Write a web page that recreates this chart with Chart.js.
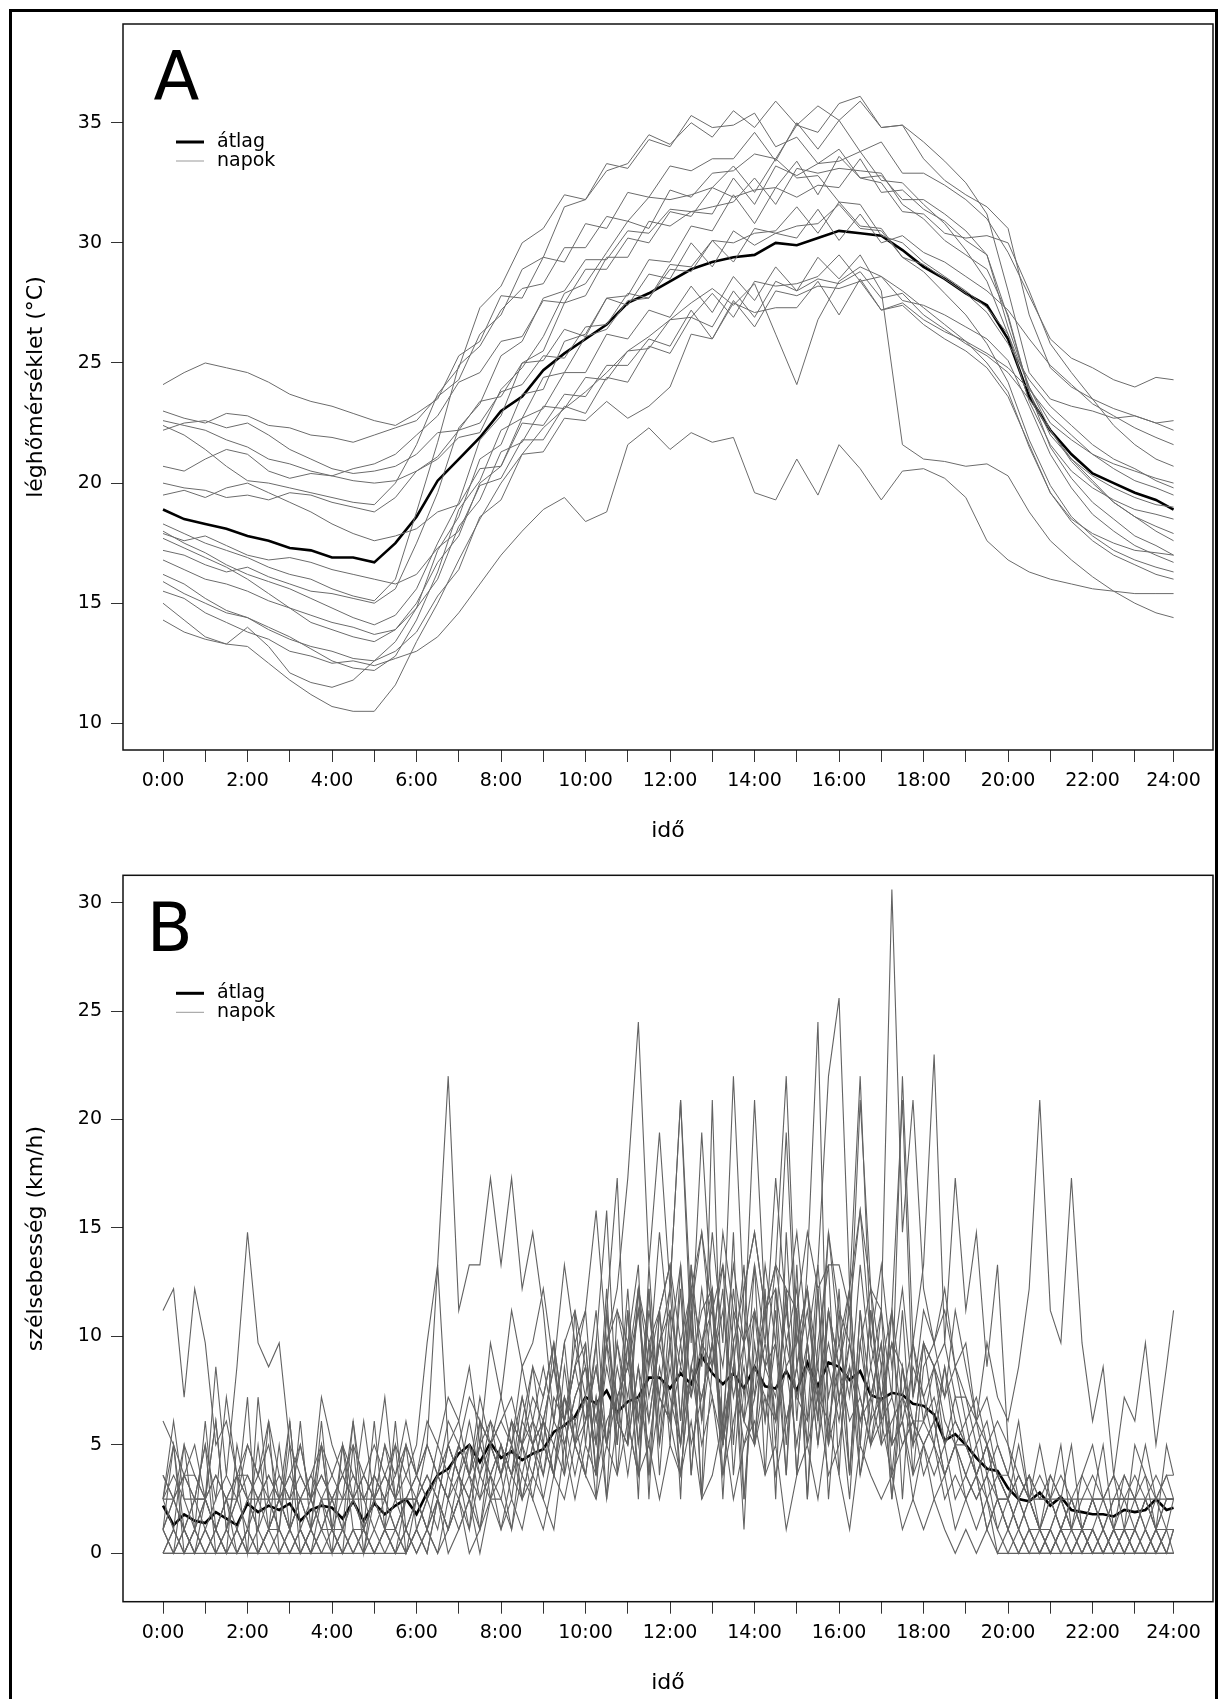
<!DOCTYPE html>
<html>
<head>
<meta charset="utf-8">
<script src="https://cdn.jsdelivr.net/npm/chart.js@4.4.0/dist/chart.umd.min.js"></script>
<style>
  body { margin: 0; background: #fff; width: 1218px; height: 1699px; position: relative; overflow: hidden; }
  #frame { position: absolute; left: 9px; top: 9px; width: 1209px; height: 1760px; border: 3px solid #000; box-sizing: border-box; }
  .panel { position: absolute; left: 0; width: 1218px; }
  #panelA { top: 0; height: 870px; }
  #panelB { top: 850px; height: 849px; }
</style>
</head>
<body>
<div id="frame"></div>
<div class="panel" id="panelA"><canvas id="temp"></canvas></div>
<div class="panel" id="panelB"><canvas id="wind"></canvas></div>
<script>
// time of day in minutes; the last sample is 23:55, which the axis calls 24:00
var hourTicks = [0,60,120,180,240,300,360,420,480,540,600,660,720,780,840,900,960,1020,1080,1140,1200,1260,1320,1380,1435];

var tempTimes = [0,30,60,90,120,150,180,210,240,270,300,330,360,390,420,450,480,510,540,570,600,630,660,690,
  720,750,780,810,840,870,900,930,960,990,1020,1050,1080,1110,1140,1170,1200,1230,1260,1290,1320,1350,1380,1410,1435];

var windTimes = [0,15,30,45,60,75,90,105,120,135,150,165,180,195,210,225,240,255,270,285,300,315,330,345,
  360,375,390,405,420,435,450,465,480,495,510,525,540,555,570,585,600,615,630,645,660,675,690,705,
  720,735,750,765,780,795,810,825,840,855,870,885,900,915,930,945,960,975,990,1005,1020,1035,1050,1065,
  1080,1095,1110,1125,1140,1155,1170,1185,1200,1215,1230,1245,1260,1275,1290,1305,1320,1335,1350,1365,1380,1395,1410,1425,1435];

// air temperature (°C), one array per day, every 30 minutes
var tempDay01 = [24.1,24.6,25.0,24.8,24.6,24.2,23.7,23.4,23.2,22.9,22.6,22.4,
  22.9,23.5,25.3,25.9,27.8,27.7,29.4,29.2,30.8,30.6,32.1,31.9,
  33.2,33.0,33.5,33.5,34.6,33.4,35.0,33.9,35.1,33.8,34.2,32.9,
  32.9,32.4,31.8,31.0,29.6,27.8,26.0,25.2,24.8,24.3,24.0,24.4,24.3];
var tempDay02 = [23.0,22.7,22.5,22.9,22.8,22.4,22.3,22.0,21.9,21.7,22.0,22.3,
  22.6,23.6,24.3,26.2,27.0,28.9,29.4,31.5,31.8,33.0,33.3,34.5,
  34.1,35.0,34.4,35.5,34.8,35.9,34.9,35.7,35.1,35.9,34.8,34.9,
  34.2,33.4,32.5,31.2,28.0,24.6,23.5,23.2,23.0,22.7,22.8,22.5,22.6];
var tempDay03 = [22.6,22.4,22.2,21.8,21.5,21.0,20.8,20.5,20.3,20.1,20.0,20.1,
  20.5,21.0,21.9,22.1,23.9,24.8,26.1,27.9,28.3,29.6,30.9,30.6,
  32.2,31.9,32.9,33.0,33.7,33.5,34.9,34.6,35.8,36.1,34.8,34.9,
  33.5,32.6,32.0,31.5,30.6,27.0,24.8,24.0,23.5,23.1,22.8,22.5,22.2];
var tempDay04 = [22.4,22.0,21.4,20.7,20.1,20.0,19.8,19.6,19.4,19.2,19.1,20.0,
  21.6,23.7,24.8,27.3,28.2,30.0,30.6,32.0,31.8,33.3,33.1,34.3,
  34.0,35.3,34.8,34.9,35.4,34.0,34.4,33.3,33.9,32.7,32.8,31.8,
  31.8,31.2,30.5,29.5,26.5,24.0,22.5,21.8,21.2,20.8,20.5,20.2,20.0];
var tempDay05 = [22.2,22.5,22.6,22.3,22.5,22.0,21.4,21.0,20.6,20.4,20.5,20.7,
  21.2,22.1,22.2,23.4,23.6,25.0,25.1,26.4,26.1,27.7,27.4,28.7,
  28.5,30.0,29.0,30.5,29.9,30.4,30.2,31.4,30.1,31.2,30.0,30.3,
  29.6,29.2,28.6,28.0,27.2,26.0,24.9,24.1,23.3,22.8,22.3,21.9,21.6];
var tempDay06 = [20.7,20.5,21.0,21.4,21.2,20.5,20.2,20.4,20.3,20.6,20.8,21.2,
  22.0,22.8,24.2,24.6,25.9,26.1,27.6,27.5,28.9,28.9,30.2,30.0,
  31.3,31.1,32.3,31.9,32.2,32.3,33.4,32.0,33.6,32.7,32.5,31.3,
  31.2,30.4,30.2,30.3,30.0,28.0,25.8,24.6,23.5,22.4,21.6,21.0,20.7];
var tempDay07 = [20.0,19.8,19.7,19.4,19.5,19.3,19.6,19.5,19.2,19.0,18.8,19.4,
  20.5,21.1,22.2,22.5,23.8,24.1,25.3,25.2,26.5,26.6,27.9,27.7,
  29.1,29.0,30.1,29.2,30.6,30.4,30.7,30.8,31.6,30.6,30.5,29.4,
  29.1,28.5,27.9,27.1,25.8,24.3,23.2,22.4,21.6,21.0,20.6,20.1,19.8];
var tempDay08 = [19.5,19.7,19.4,19.8,20.0,19.6,19.2,18.8,18.3,17.9,17.6,17.8,
  18.1,18.8,19.1,20.6,20.7,22.5,22.4,23.7,23.6,24.9,24.9,26.0,
  25.7,27.2,26.0,27.5,27.1,27.3,27.3,28.4,27.0,28.5,27.2,27.5,
  26.8,26.3,25.9,25.4,24.8,23.9,22.8,22.0,21.2,20.6,20.1,19.8,19.5];
var tempDay09 = [18.3,17.9,17.5,17.2,16.9,16.5,16.2,16.0,15.6,15.3,15.1,16.0,
  18.8,21.7,24.9,25.7,27.2,28.1,28.3,29.8,29.8,31.1,30.9,31.9,
  31.8,32.0,32.3,33.2,32.1,33.5,32.7,32.8,31.7,31.6,30.3,30.0,
  29.2,28.6,28.0,27.3,26.2,24.0,22.2,20.9,20.0,19.2,18.6,18.2,17.9];
var tempDay10 = [17.9,17.6,17.8,17.4,17.0,16.8,16.9,16.7,16.4,16.2,16.0,15.8,
  16.2,17.3,18.0,19.9,20.2,21.8,21.8,23.2,22.9,24.4,24.2,25.7,
  25.4,26.9,26.5,28.0,26.9,28.4,28.0,28.5,28.3,28.8,27.7,27.9,
  27.0,26.4,25.8,25.3,24.6,23.5,22.2,21.0,20.1,19.2,18.6,18.0,17.6];
var tempDay11 = [17.7,17.3,16.9,16.5,16.0,15.4,14.8,14.2,13.9,13.6,13.4,13.9,
  15.0,16.7,17.8,20.0,20.7,22.7,23.1,24.6,24.6,26.2,26.0,27.2,
  26.9,28.2,27.1,28.6,27.6,29.0,28.0,29.4,28.5,29.5,28.0,21.6,
  21.0,20.9,20.7,20.8,20.3,18.8,17.6,16.8,16.1,15.5,15.0,14.6,14.4];
var tempDay12 = [17.2,17.0,16.6,16.3,16.5,16.1,15.8,15.5,15.4,15.2,15.0,15.6,
  17.5,19.6,22.3,23.3,25.3,25.9,27.7,28.0,29.3,29.3,30.5,30.4,
  31.4,31.3,31.5,31.7,32.7,31.6,33.1,32.9,33.1,33.0,32.9,31.6,
  31.0,30.1,29.5,28.9,27.0,23.8,21.5,20.2,19.2,18.5,17.8,17.4,17.0];
var tempDay13 = [16.8,16.4,16.0,15.8,15.5,15.1,14.8,14.5,14.2,14.0,13.7,13.9,
  14.8,16.0,18.2,19.3,21.3,21.7,23.2,23.1,24.4,24.3,25.5,25.6,
  26.8,26.9,27.9,26.9,28.4,28.2,28.3,28.6,29.5,28.4,28.6,27.6,
  27.4,27.0,26.5,26.0,25.1,23.2,21.2,19.8,18.7,18.0,17.4,17.0,16.7];
var tempDay14 = [16.2,15.8,15.2,14.7,14.4,14.0,13.6,13.1,12.6,12.3,12.2,12.8,
  14.3,16.3,18.9,20.1,22.2,22.7,24.4,24.6,26.1,26.4,27.6,27.7,
  28.9,28.8,30.1,30.0,30.4,30.5,31.5,30.4,31.7,30.7,30.6,29.4,
  28.8,27.9,27.0,25.8,24.2,21.8,19.9,18.6,17.8,17.2,16.8,16.5,16.3];
var tempDay15 = [15.9,15.4,15.0,14.6,14.4,13.9,13.5,13.2,13.0,12.7,12.6,13.0,
  13.8,15.3,16.4,18.6,19.3,21.2,21.3,22.7,22.6,23.4,22.7,23.2,
  24.0,26.2,26.0,27.6,26.5,28.0,27.8,28.2,28.1,28.4,27.2,27.4,
  26.6,26.0,25.5,24.8,23.6,21.6,19.6,18.4,17.6,17.0,16.6,16.2,16.0];
var tempDay16 = [15.5,15.2,14.6,14.2,13.8,13.5,13.0,12.8,12.5,12.6,12.4,12.7,
  13.0,13.6,14.6,15.8,17.0,18.0,18.9,19.4,18.4,18.8,21.6,22.3,
  21.4,22.1,21.7,21.9,19.6,19.3,21.0,19.5,21.6,20.6,19.3,20.5,
  20.6,20.2,19.4,17.6,16.8,16.3,16.0,15.8,15.6,15.5,15.4,15.4,15.4];
var tempDay17 = [15.0,14.3,13.6,13.3,13.2,12.5,11.8,11.2,10.7,10.5,10.5,11.6,
  13.4,15.0,16.8,18.5,20.0,21.2,22.3,23.1,23.8,24.6,25.5,26.1,
  26.8,27.5,28.1,27.4,28.3,26.2,24.1,26.8,28.4,29.0,28.6,28.0,
  27.3,26.6,25.9,25.0,23.8,21.5,19.6,18.5,17.9,17.5,17.2,17.1,17.0];
var tempDay18 = [14.3,13.8,13.5,13.3,14.0,13.2,12.1,11.7,11.5,11.8,12.6,13.4,
  14.8,17.2,18.6,21.0,21.6,23.7,23.9,25.9,26.2,27.7,27.8,29.3,
  29.2,30.7,30.5,32.0,30.8,32.3,31.9,32.4,32.3,33.5,32.1,32.2,
  31.4,30.9,30.1,29.5,26.9,23.8,22.0,21.0,20.3,19.8,19.4,19.1,19.0];
var tempDay19 = [18.0,17.5,17.1,16.6,16.2,15.9,15.6,15.2,14.8,14.4,14.1,14.5,
  15.6,17.5,19.2,21.8,22.8,25.0,25.5,27.5,27.8,29.4,29.4,30.9,
  30.7,31.3,31.2,32.7,31.6,33.2,32.8,33.3,33.4,33.8,32.6,32.5,
  31.6,30.8,29.7,28.4,26.2,23.4,21.6,20.5,19.8,19.3,18.9,18.7,18.5];

var tempMean = [18.9,18.5,18.3,18.1,17.8,17.6,17.3,17.2,16.9,16.9,16.7,17.5,
  18.6,20.1,21.0,21.9,23.0,23.6,24.7,25.4,26.0,26.6,27.5,27.9,
  28.4,28.9,29.2,29.4,29.5,30.0,29.9,30.2,30.5,30.4,30.3,29.7,
  29.0,28.5,27.9,27.4,26.0,23.6,22.2,21.2,20.4,20.0,19.6,19.3,18.9];

// wind speed (km/h), one array per day, every 15 minutes
var windDay01 = [11.2,12.2,7.2,12.2, 9.7,5,6.1,3.6, 5,3.6,5,2.5, 3.6,5,2.5,3.6, 2.5,3.6,5,3.6, 2.5,3.6,2.5,5,
  3.6,6.1,5,7.2, 6.1,8.6,5,9.7, 7.2,11.2,8.6,9.7, 12.2,8.6,13.3,9.7, 11.2,15.8,9.7,12.2, 17.3,24.5,13.3,19.4,
  12.2,20.9,11.2,14.8, 9.7,13.3,5,12.2, 14.8,11.2,13.3,9.7, 12.2,6.1,13.3,7.2, 9.7,12.2,5,11.2, 7.2,9.7,6.1,8.6,
  7.2,5,8.6,6.1, 5,6.1,3.6,5, 3.6,2.5,3.6,2.5, 2.5,1.1,2.5,3.6, 2.5,2.5,1.1,2.5, 3.6,2.5,2.5,3.6, 2.5];
var windDay02 = [6.1,5,3.6,5, 2.5,8.6,3.6,8.6, 14.8,9.7,8.6,9.7, 5,3.6,2.5,3.6, 2.5,1.1,2.5,2.5, 1.1,2.5,1.1,2.5,
  2.5,3.6,2.5,5, 3.6,5,2.5,3.6, 5,3.6,6.1,5, 3.6,6.1,5,7.2, 8.6,6.1,9.7,7.2, 8.6,11.2,7.2,9.7,
  11.2,8.6,12.2,9.7, 8.6,11.2,7.2,9.7, 11.2,8.6,9.7,6.1, 8.6,11.2,7.2,9.7, 7.2,9.7,6.1,8.6, 6.1,7.2,5,6.1,
  5,6.1,3.6,5, 3.6,2.5,3.6,2.5, 1.1,2.5,1.1,0, 1.1,0,1.1,1.1, 0,1.1,0,1.1, 0,1.1,0,0, 1.1];
var windDay03 = [2.5,3.6,2.5,1.1, 2.5,1.1,2.5,3.6, 2.5,1.1,2.5,2.5, 1.1,2.5,3.6,2.5, 2.5,3.6,2.5,3.6, 5,3.6,5,3.6,
  5,9.7,13.3,22, 11.2,13.3,13.3,17.3, 13.3,17.3,12.2,14.8, 11.2,6.1,9.7,5, 9.7,3.6,11.2,6.1, 12.2,5,8.6,11.2,
  6.1,12.2,3.6,9.7, 11.2,5,9.7,2.5, 8.6,11.2,5,12.2, 3.6,9.7,6.1,11.2, 8.6,3.6,11.2,5, 8.6,2.5,7.2,6.1,
  6.1,7.2,5,6.1, 5,3.6,5,2.5, 2.5,3.6,2.5,1.1, 2.5,1.1,2.5,1.1, 2.5,1.1,2.5,2.5, 1.1,2.5,1.1,2.5, 2.5];
var windDay04 = [0,1.1,0,1.1, 0,0,1.1,0, 1.1,0,1.1,2.5, 1.1,0,1.1,0, 0,1.1,0,1.1, 0,0,1.1,0,
  1.1,2.5,1.1,3.6, 2.5,5,3.6,6.1, 5,3.6,7.2,5, 6.1,8.6,5,7.2, 8.6,6.1,9.7,11.2, 8.6,12.2,9.7,11.2,
  13.3,9.7,12.2,14.8, 11.2,13.3,9.7,12.2, 14.8,11.2,13.3,12.2, 11.2,14.8,12.2,13.3, 13.3,11.2,15.8,12.2, 11.2,30.6,14.8,20.9,
  12.2,9.7,11.2,8.6, 7.2,6.1,5,3.6, 2.5,1.1,2.5,1.1, 0,1.1,0,1.1, 0,0,1.1,0, 1.1,0,0,1.1, 0];
var windDay05 = [1.1,2.5,1.1,2.5, 2.5,3.6,2.5,1.1, 2.5,2.5,3.6,2.5, 1.1,2.5,2.5,1.1, 2.5,1.1,2.5,3.6, 2.5,2.5,1.1,2.5,
  3.6,2.5,5,3.6, 5,3.6,6.1,5, 6.1,7.2,5,8.6, 7.2,9.7,6.1,8.6, 9.7,3.6,11.2,5, 11.2,2.5,13.3,6.1,
  9.7,3.6,8.6,11.2, 12.2,5,14.8,2.5, 9.7,6.1,11.2,3.6, 11.2,5,12.2,2.5, 8.6,11.2,3.6,7.2, 9.7,5,11.2,3.6,
  8.6,9.7,7.2,11.2, 8.6,6.1,9.7,7.2, 6.1,8.6,12.2,20.9, 11.2,9.7,17.3,9.7, 6.1,8.6,3.6,7.2, 6.1,9.7,5,8.6, 11.2];
var windDay06 = [2.5,5,0,1.1, 6.1,1.1,2.5,0, 1.1,5,1.1,2.5, 6.1,1.1,0,2.5, 1.1,5,1.1,0, 2.5,1.1,6.1,1.1,
  2.5,1.1,3.6,2.5, 3.6,2.5,5,3.6, 2.5,5,3.6,6.1, 5,3.6,7.2,6.1, 7.2,5,8.6,6.1, 5,8.6,6.1,9.7,
  7.2,5,8.6,7.2, 9.7,6.1,8.6,5, 7.2,9.7,6.1,8.6, 5,8.6,7.2,6.1, 8.6,6.1,7.2,5, 6.1,3.6,5,6.1,
  3.6,5,2.5,3.6, 2.5,3.6,1.1,2.5, 1.1,2.5,1.1,0, 1.1,2.5,1.1,1.1, 2.5,1.1,0,1.1, 1.1,2.5,1.1,2.5, 2.5];
var windDay07 = [1.1,0,3.6,2.5, 5,0,1.1,3.6, 0,7.2,2.5,1.1, 5,0,1.1,6.1, 1.1,0,5,0, 3.6,2.5,5,0,
  1.1,0,2.5,1.1, 2.5,3.6,1.1,5, 3.6,6.1,2.5,5, 6.1,3.6,8.6,5, 7.2,11.2,5,9.7, 6.1,12.2,8.6,14.8,
  9.7,13.3,7.2,12.2, 8.6,14.8,11.2,9.7, 13.3,9.7,17.3,11.2, 14.8,9.7,13.3,22, 25.6,12.2,15.8,9.7, 13.3,8.6,12.2,7.2,
  9.7,6.1,8.6,5, 6.1,3.6,5,2.5, 2.5,1.1,0,1.1, 0,1.1,0,0, 1.1,0,0,1.1, 0,0,1.1,0, 0];
var windDay08 = [3.6,2.5,3.6,2.5, 1.1,2.5,3.6,2.5, 3.6,2.5,1.1,2.5, 2.5,3.6,2.5,1.1, 2.5,2.5,3.6,2.5, 2.5,1.1,2.5,3.6,
  2.5,3.6,2.5,1.1, 3.6,2.5,5,3.6, 5,3.6,5,6.1, 3.6,7.2,6.1,8.6, 6.1,9.7,2.5,11.2, 9.7,3.6,12.2,5,
  11.2,2.5,13.3,6.1, 12.2,3.6,8.6,13.3, 5,12.2,2.5,14.8, 6.1,13.3,24.5,5, 11.2,3.6,9.7,12.2, 5,11.2,2.5,9.7,
  7.2,8.6,6.1,5, 5,3.6,5,3.6, 2.5,3.6,2.5,2.5, 3.6,2.5,2.5,1.1, 2.5,2.5,3.6,2.5, 2.5,1.1,2.5,2.5, 2.5];
var windDay09 = [0,1.1,0,0, 1.1,0,0,1.1, 0,0,1.1,0, 0,1.1,0,1.1, 1.1,0,0,1.1, 0,1.1,0,1.1,
  0,1.1,2.5,1.1, 2.5,1.1,3.6,2.5, 3.6,1.1,5,2.5, 5,3.6,6.1,3.6, 6.1,8.6,5,9.7, 7.2,11.2,6.1,9.7,
  12.2,20.9,9.7,19.4, 11.2,8.6,13.3,9.7, 20.9,11.2,12.2,8.6, 9.7,12.2,7.2,11.2, 8.6,12.2,22,9.7, 7.2,9.7,8.6,6.1,
  5,6.1,3.6,5, 2.5,3.6,1.1,2.5, 1.1,0,1.1,0, 0,1.1,0,1.1, 0,0,1.1,0, 1.1,0,1.1,0, 1.1];
var windDay10 = [2.5,2.5,1.1,2.5, 2.5,1.1,2.5,2.5, 1.1,2.5,2.5,3.6, 2.5,2.5,1.1,2.5, 3.6,2.5,2.5,1.1, 2.5,3.6,2.5,2.5,
  3.6,5,3.6,6.1, 5,7.2,6.1,5, 7.2,5,8.6,6.1, 8.6,6.1,9.7,11.2, 8.6,3.6,9.7,5, 11.2,6.1,12.2,3.6,
  9.7,5,11.2,2.5, 8.6,12.2,3.6,9.7, 5,11.2,6.1,12.2, 3.6,9.7,5,11.2, 7.2,2.5,9.7,6.1, 11.2,3.6,8.6,5,
  9.7,8.6,9.7,7.2, 7.2,5,6.1,3.6, 3.6,2.5,3.6,2.5, 2.5,2.5,1.1,2.5, 2.5,1.1,2.5,2.5, 2.5,2.5,3.6,2.5, 2.5];
var windDay11 = [0,0,1.1,0, 0,1.1,0,0, 1.1,0,0,1.1, 0,0,1.1,0, 0,1.1,0,0, 1.1,0,0,1.1,
  0,1.1,0,2.5, 1.1,2.5,1.1,2.5, 2.5,1.1,3.6,2.5, 1.1,3.6,2.5,5, 3.6,2.5,5,3.6, 6.1,3.6,5,2.5,
  5,3.6,6.1,2.5, 3.6,6.1,2.5,5, 6.1,3.6,5,1.1, 3.6,5,2.5,6.1, 3.6,1.1,5,3.6, 2.5,3.6,1.1,2.5,
  1.1,2.5,1.1,0, 1.1,0,1.1,0, 0,0,0,0, 0,0,0,0, 0,0,0,0, 0,0,0,0, 0];
var windDay12 = [1.1,5,1.1,0, 2.5,6.1,1.1,2.5, 7.2,0,1.1,5, 1.1,6.1,1.1,2.5, 0,5,2.5,1.1, 6.1,1.1,0,2.5,
  2.5,1.1,2.5,5, 3.6,1.1,6.1,2.5, 5,2.5,6.1,8.6, 5,9.7,3.6,11.2, 5,9.7,15.8,6.1, 9.7,5,11.2,7.2,
  12.2,6.1,13.3,8.6, 14.8,9.7,22,11.2, 7.2,13.3,9.7,19.4, 8.6,12.2,6.1,14.8, 9.7,7.2,13.3,8.6, 11.2,7.2,22,9.7,
  13.3,23,9.7,17.3, 11.2,14.8,8.6,13.3, 5,2.5,3.6,1.1, 2.5,1.1,2.5,1.1, 1.1,2.5,1.1,0, 1.1,2.5,1.1,1.1, 2.5];
var windDay13 = [2.5,1.1,5,3.6, 2.5,6.1,1.1,2.5, 5,3.6,2.5,1.1, 6.1,1.1,2.5,5, 1.1,2.5,6.1,2.5, 3.6,7.2,2.5,5,
  1.1,2.5,3.6,2.5, 5,3.6,2.5,5, 3.6,5,2.5,3.6, 6.1,5,7.2,5, 6.1,8.6,5,7.2, 8.6,6.1,9.7,7.2,
  6.1,8.6,7.2,9.7, 7.2,5,8.6,6.1, 8.6,7.2,6.1,9.7, 7.2,6.1,8.6,5, 7.2,8.6,6.1,7.2, 5,6.1,7.2,5,
  6.1,5,3.6,5, 3.6,5,2.5,3.6, 2.5,5,2.5,1.1, 3.6,2.5,5,1.1, 2.5,5,1.1,3.6, 2.5,5,2.5,1.1, 1.1];
var windDay14 = [0,0,1.1,0, 1.1,0,0,0, 0,1.1,0,0, 1.1,0,0,1.1, 0,0,1.1,0, 0,1.1,0,0,
  1.1,0,2.5,0, 1.1,2.5,0,2.5, 1.1,3.6,2.5,5, 2.5,5,3.6,6.1, 3.6,7.2,5,8.6, 6.1,3.6,9.7,5,
  8.6,5,11.2,6.1, 9.7,6.1,12.2,7.2, 11.2,8.6,13.3,22, 9.7,12.2,8.6,14.8, 11.2,9.7,20.9,12.2, 8.6,11.2,7.2,9.7,
  6.1,8.6,5,7.2, 5,3.6,2.5,1.1, 0,1.1,0,0, 1.1,0,0,1.1, 0,1.1,0,0, 0,0,1.1,0, 0];
var windDay15 = [3.6,2.5,3.6,3.6, 2.5,3.6,2.5,3.6, 3.6,2.5,3.6,2.5, 3.6,2.5,3.6,5, 3.6,5,3.6,2.5, 3.6,2.5,3.6,5,
  3.6,5,3.6,2.5, 5,3.6,5,6.1, 3.6,6.1,5,7.2, 6.1,8.6,6.1,9.7, 7.2,2.5,11.2,17.3, 5,12.2,3.6,11.2,
  13.3,6.1,12.2,2.5, 20.9,5,9.7,1.1, 11.2,6.1,9.7,3.6, 13.3,2.5,12.2,5, 12.2,3.6,11.2,7.2, 9.7,2.5,8.6,5,
  9.7,8.6,7.2,8.6, 6.1,7.2,5,6.1, 5,3.6,2.5,3.6, 2.5,3.6,2.5,2.5, 3.6,2.5,2.5,3.6, 2.5,3.6,2.5,3.6, 3.6];
var windDay16 = [1.1,0,0,1.1, 0,1.1,0,1.1, 0,0,1.1,1.1, 0,1.1,0,0, 1.1,0,1.1,1.1, 0,1.1,1.1,0,
  2.5,1.1,0,1.1, 2.5,0,1.1,3.6, 1.1,2.5,1.1,3.6, 2.5,1.1,5,2.5, 5,3.6,6.1,7.2, 3.6,7.2,5,8.6,
  6.1,9.7,5,7.2, 9.7,5,8.6,6.1, 5,8.6,7.2,11.2, 7.2,9.7,5,8.6, 6.1,9.7,7.2,5, 7.2,5,6.1,3.6,
  5,2.5,3.6,1.1, 2.5,1.1,2.5,0, 1.1,0,1.1,1.1, 0,1.1,1.1,0, 1.1,0,1.1,1.1, 0,1.1,0,1.1, 1.1];
var windDay17 = [2.5,6.1,2.5,2.5, 5,2.5,7.2,3.6, 2.5,3.6,6.1,3.6, 2.5,5,2.5,7.2, 5,3.6,2.5,6.1, 2.5,5,3.6,6.1,
  3.6,2.5,3.6,5, 3.6,6.1,3.6,5, 6.1,5,7.2,5, 7.2,9.7,6.1,8.6, 11.2,5,12.2,3.6, 9.7,13.3,2.5,11.2,
  5,13.3,3.6,9.7, 12.2,2.5,11.2,6.1, 13.3,3.6,12.2,5, 11.2,2.5,9.7,13.3, 3.6,12.2,5,11.2, 6.1,11.2,20.9,7.2,
  11.2,9.7,12.2,8.6, 9.7,6.1,7.2,5, 3.6,6.1,2.5,5, 2.5,5,1.1,3.6, 5,2.5,3.6,1.1, 5,3.6,1.1,5, 3.6];
var windDay18 = [1.1,2.5,5,1.1, 2.5,1.1,0,5, 2.5,1.1,6.1,0, 1.1,2.5,1.1,5, 1.1,1.1,6.1,1.1, 2.5,5,2.5,1.1,
  2.5,5,13.3,5, 6.1,3.6,7.2,5, 3.6,6.1,5,3.6, 6.1,3.6,7.2,5, 3.6,7.2,2.5,6.1, 5,8.6,3.6,7.2,
  6.1,3.6,8.6,5, 7.2,3.6,6.1,8.6, 5,7.2,3.6,6.1, 8.6,5,7.2,3.6, 5,8.6,3.6,6.1, 7.2,5,6.1,2.5,
  5,3.6,5,2.5, 3.6,2.5,3.6,1.1, 2.5,1.1,2.5,1.1, 1.1,2.5,1.1,0, 1.1,0,1.1,1.1, 2.5,1.1,0,1.1, 1.1];

var windMean = [2.2,1.3,1.8,1.5, 1.4,1.9,1.6,1.3, 2.3,1.9,2.2,2.0, 2.3,1.5,2.0,2.2, 2.1,1.6,2.4,1.5, 2.3,1.8,2.2,2.5,
  1.8,2.8,3.6,3.9, 4.6,5.0,4.2,5.1, 4.4,4.7,4.3,4.6, 4.8,5.6,5.9,6.3, 7.2,6.9,7.5,6.5, 7.0,7.2,8.1,8.1,
  7.6,8.3,7.8,9.1, 8.3,7.8,8.3,7.6, 8.6,7.7,7.6,8.4, 7.5,8.8,7.7,8.8, 8.6,8.0,8.4,7.3, 7.1,7.4,7.3,6.9,
  6.8,6.4,5.2,5.5, 5.0,4.4,3.9,3.8, 3.0,2.5,2.4,2.8, 2.2,2.6,2.0,1.9, 1.8,1.8,1.7,2.0, 1.9,2.0,2.5,2.0, 2.1];

var tempDays = [tempDay01, tempDay02, tempDay03, tempDay04, tempDay05, tempDay06, tempDay07, tempDay08, tempDay09, tempDay10,
  tempDay11, tempDay12, tempDay13, tempDay14, tempDay15, tempDay16, tempDay17, tempDay18, tempDay19];
var windDays = [windDay01, windDay02, windDay03, windDay04, windDay05, windDay06, windDay07, windDay08, windDay09,
  windDay10, windDay11, windDay12, windDay13, windDay14, windDay15, windDay16, windDay17, windDay18];

var tempTicks = [10, 15, 20, 25, 30, 35];
var windTicks = [0, 5, 10, 15, 20, 25, 30];

Chart.defaults.font.family = '"DejaVu Sans", sans-serif';
Chart.defaults.color = '#000';

function toPoints(times, vals) {
  return vals.map(function (v, i) { return { x: times[i], y: v }; });
}

// box around the plot, panel letter and the small legend
var panelDecor = {
  id: 'panelDecor',
  afterDraw: function (chart, args, opts) {
    var ctx = chart.ctx, a = chart.chartArea;
    ctx.save();
    ctx.strokeStyle = '#111';
    ctx.lineWidth = 1.5;
    ctx.strokeRect(a.left, a.top, a.right - a.left, a.bottom - a.top);

    ctx.fillStyle = '#000';
    ctx.textBaseline = 'alphabetic';
    ctx.font = '67px "DejaVu Sans"';
    ctx.fillText(opts.letter, opts.letterX, a.top + 76);

    ctx.lineCap = 'butt';
    ctx.strokeStyle = '#000';
    ctx.lineWidth = 3;
    ctx.beginPath(); ctx.moveTo(176, a.top + 118); ctx.lineTo(204, a.top + 118); ctx.stroke();
    ctx.strokeStyle = '#999';
    ctx.lineWidth = 1;
    ctx.beginPath(); ctx.moveTo(176, a.top + 137); ctx.lineTo(204, a.top + 137); ctx.stroke();
    ctx.font = '19px "DejaVu Sans"';
    ctx.fillText('átlag', 217, a.top + 122.7);
    ctx.fillText('napok', 217, a.top + 141.7);
    ctx.restore();
  }
};

function makePanel(id, p) {
  var datasets = p.days.map(function (d) {
    return { data: toPoints(p.times, d), borderColor: p.gray, borderWidth: p.grayWidth, pointRadius: 0, tension: 0 };
  });
  datasets.push({ data: toPoints(p.times, p.mean), borderColor: '#000', borderWidth: 2.6, pointRadius: 0, tension: 0 });

  new Chart(document.getElementById(id), {
    type: 'line',
    data: { datasets: datasets },
    plugins: [panelDecor],
    options: {
      responsive: true,
      maintainAspectRatio: false,
      animation: false,
      events: [],
      layout: { padding: { left: 0, right: 5, top: p.top, bottom: 0 } },
      plugins: {
        legend: { display: false },
        tooltip: { enabled: false },
        panelDecor: { letter: p.letter, letterX: p.letterX }
      },
      scales: {
        x: {
          type: 'linear',
          min: -56.8,
          max: 1491,
          afterBuildTicks: function (s) { s.ticks = hourTicks.map(function (v) { return { value: v }; }); },
          afterFit: function (s) { s.height = p.xHeight; },
          border: { display: false },
          grid: { drawOnChartArea: false, drawTicks: true, tickLength: 12, color: '#333', lineWidth: 1 },
          ticks: {
            autoSkip: false, maxRotation: 0, padding: 8, color: '#000',
            font: { size: 19 },
            callback: function (v) {
              if (v === 1435) return '24:00';
              return v % 120 === 0 ? (v / 60) + ':00' : '';
            }
          },
          title: { display: true, text: 'idő', color: '#000', font: { size: 22 }, padding: { top: 0, bottom: p.xTitlePad } }
        },
        y: {
          min: p.yMin,
          max: p.yMax,
          afterBuildTicks: function (s) { s.ticks = p.yTicks.map(function (v) { return { value: v }; }); },
          afterFit: function (s) { s.width = 123; },
          border: { display: false },
          grid: { drawOnChartArea: false, drawTicks: true, tickLength: 12, color: '#333', lineWidth: 1 },
          ticks: { padding: 9, color: '#000', font: { size: 19 } },
          title: { display: true, text: p.yTitle, color: '#000', font: { size: 22 }, padding: { top: 23, bottom: 0 } }
        }
      }
    }
  });
}

makePanel('temp', {
  days: tempDays, mean: tempMean, times: tempTimes, gray: '#6b6b6b', grayWidth: 1,
  top: 24, xHeight: 120, xTitlePad: 26,
  yMin: 8.89, yMax: 39.11, yTicks: tempTicks,
  yTitle: 'léghőmérséklet (°C)', letter: 'A', letterX: 153.5
});

makePanel('wind', {
  days: windDays, mean: windMean, times: windTimes, gray: '#626262', grayWidth: 1.1,
  top: 25.3, xHeight: 97.3, xTitlePad: 3,
  yMin: -2.23, yMax: 31.26, yTicks: windTicks,
  yTitle: 'szélsebesség (km/h)', letter: 'B', letterX: 146.7
});
</script>
</body>
</html>
